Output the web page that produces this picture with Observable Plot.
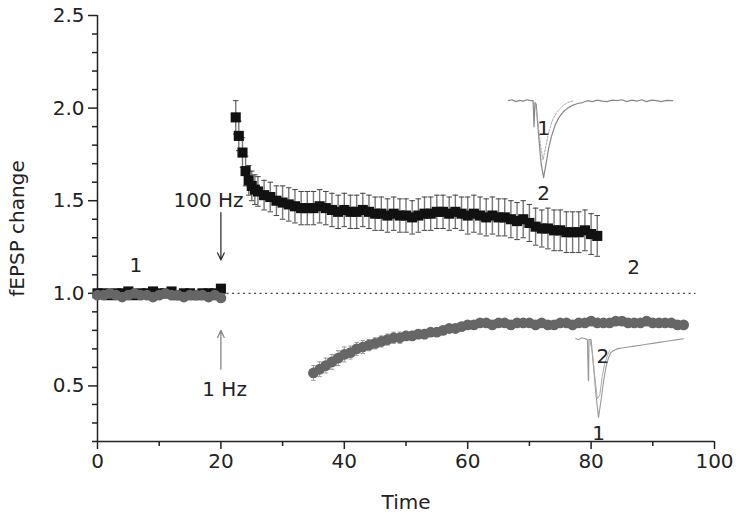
<!DOCTYPE html>
<html><head><meta charset="utf-8">
<script src="https://cdn.jsdelivr.net/npm/d3@7"></script>
<script src="https://cdn.jsdelivr.net/npm/@observablehq/plot@0.6"></script>
<style>body{margin:0;background:#fff}</style>
</head><body><div id="chart"></div>
<script>
// ---- 100 Hz series (black squares)
const hfT = [0,1,2,3,4,5,6,7,8,9,10,11,12,13,14,15,16,17,18,19,20,
  22.4,22.9,23.5,24,24.5,25,25.5,26,27,28,29,30,31,32,33,34,35,36,37,38,39,40,41,42,43,44,45,46,47,48,49,50,
  51,52,53,54,55,56,57,58,59,60,61,62,63,64,65,66,67,68,69,70,71,72,73,74,75,76,77,78,79,80,81];
const hfV = [1.0,1.0,0.99,1.0,1.0,1.01,0.99,1.0,1.0,1.01,1.0,1.0,1.01,0.99,1.0,1.0,0.99,1.0,1.0,1.0,1.025,
  1.95,1.85,1.76,1.66,1.61,1.58,1.56,1.55,1.53,1.52,1.50,1.49,1.48,1.47,1.46,1.46,1.46,1.47,1.46,1.45,1.44,1.45,1.44,1.44,1.45,1.44,1.43,1.43,1.42,1.43,1.42,1.42,
  1.41,1.42,1.43,1.43,1.44,1.44,1.43,1.44,1.43,1.42,1.43,1.42,1.41,1.42,1.41,1.41,1.40,1.39,1.40,1.38,1.36,1.35,1.35,1.34,1.34,1.33,1.33,1.33,1.34,1.32,1.31];
const hfE = [0.02,0.02,0.02,0.02,0.02,0.02,0.02,0.02,0.02,0.02,0.02,0.02,0.02,0.02,0.02,0.02,0.02,0.02,0.02,0.02,0.02,
  0.09,0.08,0.08,0.08,0.08,0.08,0.08,0.08,0.08,0.08,0.08,0.09,0.09,0.09,0.09,0.09,0.09,0.09,0.09,0.09,0.09,0.09,0.09,0.09,0.09,0.09,0.09,0.09,0.09,0.09,0.09,0.09,
  0.09,0.09,0.09,0.09,0.09,0.09,0.09,0.09,0.09,0.10,0.10,0.10,0.10,0.10,0.10,0.10,0.10,0.10,0.10,0.10,0.10,0.10,0.11,0.11,0.11,0.11,0.11,0.11,0.11,0.11,0.11];

// ---- 1 Hz series (grey circles)
const lfT = [0,1,2,3,4,5,6,7,8,9,10,11,12,13,14,15,16,17,18,19,20,
  35,36,37,38,39,40,41,42,43,44,45,46,47,48,49,50,51,52,53,54,55,56,57,58,59,60,61,62,63,64,65,
  66,67,68,69,70,71,72,73,74,75,76,77,78,79,80,81,82,83,84,85,86,87,88,89,90,91,92,93,94,95];
const lfV = [0.99,0.99,1.0,0.99,0.98,0.99,1.0,0.99,0.99,0.98,0.99,1.0,0.99,0.99,0.98,0.99,0.99,0.99,0.98,0.99,0.975,
  0.57,0.59,0.61,0.63,0.65,0.67,0.68,0.70,0.71,0.72,0.73,0.74,0.75,0.76,0.76,0.77,0.77,0.78,0.78,0.79,0.79,0.80,0.81,0.81,0.82,0.83,0.83,0.84,0.84,0.83,0.84,
  0.84,0.83,0.84,0.84,0.84,0.83,0.84,0.83,0.83,0.84,0.84,0.83,0.84,0.84,0.85,0.84,0.84,0.84,0.85,0.85,0.84,0.84,0.84,0.85,0.84,0.84,0.84,0.84,0.83,0.83];
const lfE = [0.02,0.02,0.02,0.02,0.02,0.02,0.02,0.02,0.02,0.02,0.02,0.02,0.02,0.02,0.02,0.02,0.02,0.02,0.02,0.02,0.02,
  0.04,0.04,0.04,0.04,0.04,0.04,0.035,0.035,0.035,0.03,0.03,0.03,0.03,0.03,0.03,0.025,0.025,0.025,0.025,0.02,0.02,0.02,0.02,0.02,0.02,0.02,0.02,0.02,0.02,0.02,0.02,
  0.02,0.02,0.02,0.02,0.02,0.02,0.02,0.02,0.02,0.02,0.02,0.02,0.02,0.02,0.02,0.02,0.02,0.02,0.02,0.02,0.02,0.02,0.02,0.02,0.02,0.02,0.02,0.02,0.02,0.02];

// ---- inset traces (placed in chart units)
const upT2 = [66.6,67.2,67.8,68.4,69,69.6,70.2,70.6,70.75,70.9,71.1,71.5,71.9,72.3,72.7,73.1,73.6,74.2,74.8,75.5,76.2,77,77.8,78.6,79.4,80.2,81,81.8,82.6,83.4,84.2,85,85.8,86.6,87.4,88.2,89,89.8,90.6,91.4,92.2,93.2];
const upV2 = [2.04,2.045,2.035,2.042,2.038,2.045,2.04,2.04,1.90,2.03,2.02,1.85,1.70,1.625,1.70,1.78,1.85,1.91,1.95,1.98,2.0,2.015,2.025,2.03,2.04,2.035,2.043,2.038,2.035,2.043,2.04,2.045,2.035,2.043,2.038,2.045,2.035,2.043,2.04,2.035,2.042,2.04];
const upT1 = [70.9,71.3,71.8,72.2,72.7,73.2,73.8,74.5,75.3,76.2,77.2];
const upV1 = [2.03,1.95,1.80,1.72,1.80,1.88,1.94,1.98,2.01,2.03,2.04];
const loT1 = [77.5,78,78.5,79,79.4,79.55,79.6,79.65,80.0,80.4,80.8,81.2,81.6,82.0,82.4,82.8,83.2,83.6,84.2,85,86,87,88,89,90,91,92,93,94,95];
const loV1 = [0.755,0.75,0.76,0.755,0.75,0.53,0.53,0.75,0.75,0.60,0.45,0.33,0.42,0.52,0.60,0.65,0.68,0.69,0.70,0.705,0.71,0.715,0.72,0.725,0.73,0.735,0.74,0.745,0.75,0.755];
const loT2 = [79.8,80.2,80.6,81.0,81.4,81.8,82.2,82.6,83.0];
const loV2 = [0.75,0.68,0.55,0.43,0.45,0.55,0.62,0.66,0.69];

// ---- annotations
const annoText = ["1","100 Hz","1 Hz","2","1","2","2","1"];
const annoX    = [6.2,18,20.6,86.9,72.3,72.3,81.9,81.2];
const annoY    = [1.15,1.5,0.48,1.14,1.89,1.54,0.66,0.245];
const arrowX   = [20,20];
const arrowY1  = [1.435,0.59];
const arrowY2  = [1.18,0.80];
const arrowColor = ["#333","#888"];

const xMajor = [0,20,40,60,80,100];
const xMinor = [10,30,50,70,90];
const yMajor = [0.5,1.0,1.5,2.0,2.5];
const yMinor = [0.2,0.3,0.4,0.6,0.7,0.8,0.9,1.1,1.2,1.3,1.4,1.6,1.7,1.8,1.9,2.1,2.2,2.3,2.4];

const hf = hfT.map((t,i)=>({t, v:hfV[i], e:hfE[i]}));
const lf = lfT.map((t,i)=>({t, v:lfV[i], e:lfE[i]}));
const toPts = (T,V)=>T.map((t,i)=>({t, v:V[i]}));
const anno = annoText.map((s,i)=>({s, x:annoX[i], y:annoY[i]}));
const arrows = arrowX.map((x,i)=>({x, y1:arrowY1[i], y2:arrowY2[i], c:arrowColor[i]}));
const blank = () => "";

const font = "DejaVu Sans";
const chart = Plot.plot({
  width: 740, height: 516,
  marginLeft: 97, marginRight: 26, marginTop: 15, marginBottom: 75,
  style: {fontFamily: font, fontSize: "20px", color: "#222", background: "#fff"},
  x: {domain: [0,100]},
  y: {domain: [0.2,2.5]},
  marks: [
    Plot.axisX({ticks: xMajor, tickSize: 8, tickPadding: 4, tickFormat: d3.format("d"), label: "Time", labelAnchor: "center", labelOffset: 67, labelArrow: false, stroke: "#222", strokeWidth: 1.5}),
    Plot.axisX({ticks: xMinor, tickSize: 5, tickFormat: blank, label: null, stroke: "#222", strokeWidth: 1.5}),
    Plot.axisY({ticks: yMajor, tickSize: 9, tickPadding: 4, tickFormat: d3.format(".1f"), label: "fEPSP change", labelAnchor: "center", labelOffset: 88, labelArrow: false, stroke: "#222", strokeWidth: 1.5}),
    Plot.axisY({ticks: yMinor, tickSize: 5, tickFormat: blank, label: null, stroke: "#222", strokeWidth: 1.5}),
    Plot.ruleX([0], {stroke: "#222", strokeWidth: 1.5}),
    Plot.ruleY([0.2], {stroke: "#222", strokeWidth: 1.5}),
    Plot.ruleY([1], {x1: 21, x2: 97, stroke: "#444", strokeWidth: 1.2, strokeDasharray: "2,3.5"}),
    // inset traces
    Plot.line(toPts(upT2, upV2), {x: "t", y: "v", stroke: "#888", strokeWidth: 1.2}),
    Plot.line(toPts(upT1, upV1), {x: "t", y: "v", stroke: "#aaa", strokeWidth: 1, strokeDasharray: "2,1.5"}),
    Plot.line(toPts(loT1, loV1), {x: "t", y: "v", stroke: "#999", strokeWidth: 1.1}),
    Plot.line(toPts(loT2, loV2), {x: "t", y: "v", stroke: "#aaa", strokeWidth: 1}),
    // 1 Hz series
    Plot.ruleX(lf, {x: "t", y1: d=>d.v-d.e, y2: d=>d.v+d.e, stroke: "#999", strokeWidth: 1}),
    Plot.link(lf, {x1: d=>d.t-0.35, x2: d=>d.t+0.35, y1: d=>d.v+d.e, y2: d=>d.v+d.e, stroke: "#999"}),
    Plot.link(lf, {x1: d=>d.t-0.35, x2: d=>d.t+0.35, y1: d=>d.v-d.e, y2: d=>d.v-d.e, stroke: "#999"}),
    // 100 Hz series
    Plot.ruleX(hf, {x: "t", y1: d=>d.v-d.e, y2: d=>d.v+d.e, stroke: "#777", strokeWidth: 1.4}),
    Plot.link(hf, {x1: d=>d.t-0.45, x2: d=>d.t+0.45, y1: d=>d.v+d.e, y2: d=>d.v+d.e, stroke: "#444"}),
    Plot.link(hf, {x1: d=>d.t-0.45, x2: d=>d.t+0.45, y1: d=>d.v-d.e, y2: d=>d.v-d.e, stroke: "#444"}),
    Plot.dot(hf, {x: "t", y: "v", symbol: "square", r: 5.7, fill: "#111", stroke: "none"}),
    Plot.dot(lf, {x: "t", y: "v", r: 5.4, fill: "#666", stroke: "none"}),
    // annotations
    Plot.arrow(arrows, {x1: "x", x2: "x", y1: "y1", y2: "y2", stroke: "c", headLength: 9, headAngle: 50, strokeWidth: 1.3}),
    Plot.text(anno, {x: "x", y: "y", text: "s", fontSize: 20, fill: "#222"})
  ]
});
document.getElementById("chart").appendChild(chart);
</script></body></html>
